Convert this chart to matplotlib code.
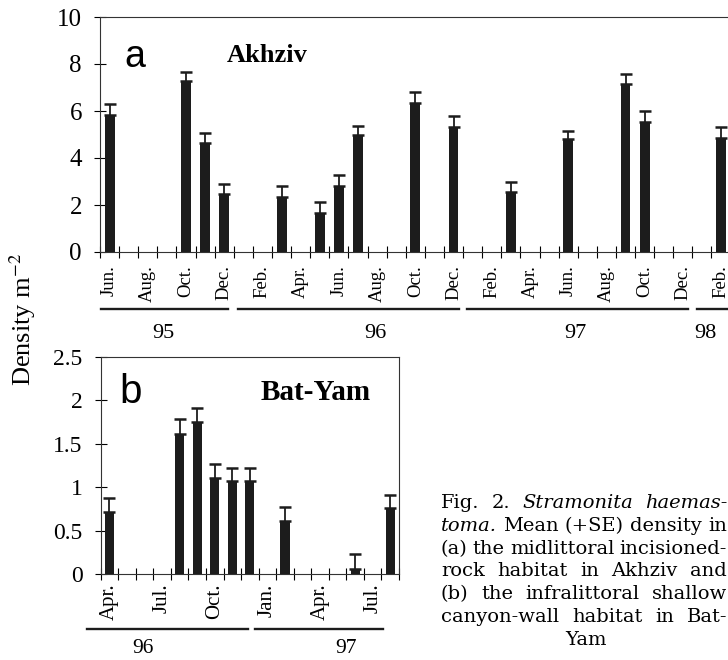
import numpy as np
import matplotlib
matplotlib.use('Agg')
import matplotlib.pyplot as plt
from matplotlib.ticker import FixedLocator, FormatStrFormatter

plt.rcParams['font.family'] = 'serif'
plt.rcParams['font.serif'] = ['Liberation Serif', 'DejaVu Serif']
plt.rcParams['mathtext.fontset'] = 'stix'

# (a) Akhziv: months counted from Jun. 1995
a_month = [0, 4, 5, 6, 9, 11, 12, 13, 16, 18, 21, 24, 27, 28, 32]
a_mean = [5.83, 7.28, 4.65, 2.47, 2.34, 1.67, 2.82, 4.98, 6.33, 5.33,
          2.54, 4.79, 7.13, 5.53, 4.86]
a_se = [0.45, 0.37, 0.43, 0.41, 0.47, 0.46, 0.46, 0.38, 0.47, 0.44,
        0.45, 0.37, 0.44, 0.45, 0.46]
a_ticklabels = ['Jun.', 'Aug.', 'Oct.', 'Dec.', 'Feb.', 'Apr.', 'Jun.',
                'Aug.', 'Oct.', 'Dec.', 'Feb.', 'Apr.', 'Jun.', 'Aug.',
                'Oct.', 'Dec.', 'Feb.']
a_years = ['95', '96', '97', '98']
a_year_span = [(-0.46, 6.2), (6.72, 18.29), (18.73, 30.27), (30.74, 34)]
a_year_pos = [2.8, 13.9, 24.4, 31.2]

# (b) Bat-Yam: months counted from Apr. 1996
b_month = [0, 4, 5, 6, 7, 8, 10, 14, 16]
b_mean = [0.71, 1.61, 1.75, 1.10, 1.07, 1.07, 0.61, 0.06, 0.76]
b_se = [0.17, 0.17, 0.16, 0.16, 0.15, 0.15, 0.16, 0.17, 0.15]
b_ticklabels = ['Apr.', 'Jul.', 'Oct.', 'Jan.', 'Apr.', 'Jul.']
b_years = ['96', '97']
b_year_span = [(-1.3, 7.89), (8.29, 15.58)]
b_year_pos = [1.91, 13.5]

caption = [
    [('Fig.', 'normal'), ('2.', 'normal'), ('Stramonita', 'italic'),
     ('haemas-', 'italic')],
    [('toma.', 'italic'), ('Mean', 'normal'), ('(+SE)', 'normal'),
     ('density', 'normal'), ('in', 'normal')],
    [(w, 'normal') for w in '(a) the midlittoral incisioned-'.split()],
    [(w, 'normal') for w in 'rock habitat in Akhziv and'.split()],
    [(w, 'normal') for w in '(b) the infralittoral shallow'.split()],
    [(w, 'normal') for w in 'canyon-wall habitat in Bat-'.split()],
]
caption_last = 'Yam'

W, H = 728, 660
DARK = '#1c1c1c'


def fx(px):
    return px / W


def fy(py):
    return 1 - py / H


fig = plt.figure(figsize=(W / 100, H / 100), dpi=100)


def draw_panel(ax, months, mean, se, nslots, ticklabels, step, label_size,
               label_pad, ytick_size):
    ax.bar(months, mean, width=0.52, color=DARK, zorder=3)
    ax.errorbar(months, mean, yerr=[np.zeros(len(se)), se], fmt='none',
                ecolor=DARK, elinewidth=1.3, capsize=4.5, capthick=1.8,
                zorder=3)
    ax.set_xlim(-0.5, nslots - 0.5)
    ax.xaxis.set_major_locator(FixedLocator(np.arange(0, nslots, step)))
    ax.set_xticklabels(ticklabels, rotation=90, fontsize=label_size,
                       family='Liberation Serif')
    ax.xaxis.set_minor_locator(FixedLocator(np.arange(-0.5, nslots, 1)))
    ax.tick_params(axis='x', which='major', length=0, pad=label_pad)
    ax.tick_params(axis='x', which='minor', direction='inout', length=8,
                   width=0.8)
    ax.tick_params(axis='y', direction='inout', length=8, width=0.8,
                   labelsize=ytick_size, pad=9,
                   labelfontfamily='Liberation Serif')
    ax.yaxis.set_major_formatter(FormatStrFormatter('%g'))
    for s in ax.spines.values():
        s.set_linewidth(0.8)
        s.set_color('#333333')


def draw_years(ax, years, spans, pos, line_y, text_y, size):
    tr = ax.get_xaxis_transform()
    for yr, (x0, x1), xp in zip(years, spans, pos):
        ax.plot([x0, x1], [line_y, line_y], color=DARK, lw=1.7,
                transform=tr, clip_on=False)
        ax.text(xp, text_y, yr, transform=tr, ha='center', va='center',
                fontsize=size)


# panel a
ax_a = fig.add_axes([fx(100), fy(252), 630.6 / W, 235 / H])
draw_panel(ax_a, a_month, a_mean, a_se, 33, a_ticklabels, 2, 13.5, 9.5, 18)
ax_a.set_ylim(0, 10)
ax_a.set_yticks([0, 2, 4, 6, 8, 10])
draw_years(ax_a, a_years, a_year_span, a_year_pos, -0.243, -0.345, 16)

# panel b
ax_b = fig.add_axes([fx(100.7), fy(574), 298.3 / W, 217.3 / H])
draw_panel(ax_b, b_month, b_mean, b_se, 17, b_ticklabels, 3, 15, 7, 17)
ax_b.set_ylim(0, 2.5)
ax_b.set_yticks([0, 0.5, 1, 1.5, 2, 2.5])
draw_years(ax_b, b_years, b_year_span, b_year_pos, -0.2545, -0.343, 15.5)

fig.text(fx(135), fy(57), 'a', family='Liberation Sans', fontsize=27,
         ha='center', va='center')
fig.text(fx(267), fy(55), 'Akhziv', fontsize=19, fontweight='bold',
         ha='center', va='center')
fig.text(fx(131), fy(392), 'b', family='Liberation Sans', fontsize=29,
         ha='center', va='center')
fig.text(fx(316), fy(392), 'Bat-Yam', fontsize=21, fontweight='bold',
         ha='center', va='center')

fig.text(fx(23), fy(319), 'Density m$^{-2}$', rotation=90, fontsize=19,
         ha='center', va='center')

# caption, justified word by word
renderer = fig.canvas.get_renderer()
x_left, x_right = 441, 727
cap_size = 14
for i, line in enumerate(caption):
    base = 508 + i * 22.8
    texts = [fig.text(0, 0, w, family='DejaVu Serif', style=st,
                      fontsize=cap_size, ha='left', va='baseline')
             for w, st in line]
    widths = [t.get_window_extent(renderer).width for t in texts]
    gap = (x_right - x_left - sum(widths)) / (len(widths) - 1)
    gap = max(gap, 3.0)
    x = x_left
    for t, w in zip(texts, widths):
        t.set_position((fx(x), fy(base)))
        x += w + gap
fig.text(fx(586), fy(508 + 6 * 22.8), caption_last, family='DejaVu Serif',
         fontsize=cap_size, ha='center', va='baseline')

fig.savefig('out.png', dpi=100)
